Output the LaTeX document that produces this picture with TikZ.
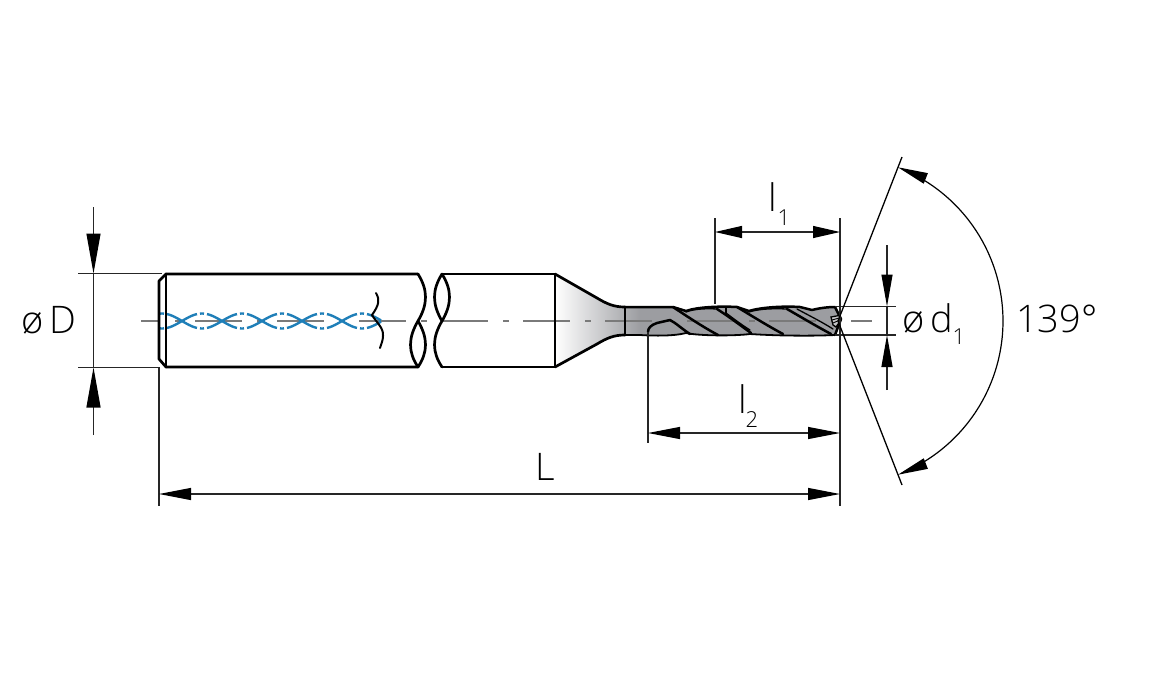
\documentclass[tikz,border=0pt]{standalone}
\usepackage{fontspec}
\setmainfont{Open Sans Light}
\usetikzlibrary{arrows.meta}
\definecolor{flute}{HTML}{9C9DA1}
\definecolor{helix}{HTML}{1F7FB8}
\definecolor{axisgray}{HTML}{7A7A7A}
\definecolor{dimc}{HTML}{262626}
\tikzset{
  outline/.style={line width=2.7pt,line join=round,line cap=round},
  fluteline/.style={line width=2.5pt,line join=round,line cap=round},
  fluteedge/.style={line width=1.3pt,line cap=round},
  thin dim/.style={line width=1.2pt,dimc},
  dimL/.style={line width=1.2pt,dimc,{Triangle[length=32pt,width=12pt,black]}-{Triangle[length=32pt,width=12pt,black]}},
  dimS/.style={line width=1.2pt,dimc,{Triangle[length=27pt,width=12pt,black]}-{Triangle[length=27pt,width=12pt,black]}},
  tipD/.style={line width=1.2pt,dimc,-{Triangle[length=40pt,width=14pt,black]}},
  tipd/.style={line width=1.2pt,dimc,-{Triangle[length=32pt,width=11pt,black]}},
  label/.style={font=\fontsize{38}{38}\selectfont,inner sep=0pt},
  sublabel/.style={font=\fontsize{22}{22}\selectfont,inner sep=0pt},
  helixline/.style={helix,line width=2.4pt}
}
\begin{document}
\begin{tikzpicture}[x=1pt,y=-1pt]
\useasboundingbox (0,0) rectangle (1176,694);
% body fills
\shade[left color=white,right color=flute] (555,274) -- (597,298) .. controls (607,304) and (614,307) .. (625,307) -- (640,307) -- (640,335) -- (625,335) .. controls (614,335) and (607,338) .. (597,344) -- (555,367) -- cycle;
\fill[flute] (640,307) -- (677,307) -- (686,311) .. controls (697,307) and (720,306) .. (737,307) -- (749,311) .. controls (762,307) and (785,306) .. (800,307) -- (812,310) .. controls (820,308) and (828,307) .. (835,307) -- (841,319) -- (835,335) .. controls (815,336) and (780,336) .. (750,334) .. controls (735,336) and (700,336) .. (686,333) .. controls (675,336) and (655,336) .. (640,335) -- cycle;
% centre line
\coordinate (axisA) at (141,321);
\coordinate (axisB) at (872,321);
\draw[axisgray,line width=1.1pt,dash pattern=on 47pt off 15pt on 6pt off 14pt,dash phase=28pt] (axisA) -- (axisB);
% helix
\foreach \p in {162,202,242,282,322,362}{
  \pgfmathsetmacro{\a}{\p+5}
  \pgfmathsetmacro{\b}{\p+35}
  \pgfmathsetmacro{\c}{\p-2}
  \pgfmathsetmacro{\d}{\p+2}
  \ifnum\p=362 \def\b{381}\fi
  \foreach \s in {1,-1}{
    \draw[helixline] plot[domain=\a:\b,samples=20,smooth] (\x,{321+\s*7.5*cos((\x-162)*4.5)});
    \draw[helixline] plot[domain=\c:\d,samples=3] (\x,{321+\s*7.5*cos((\x-162)*4.5)});
  }
}
% shank
\draw[outline] (418,274) -- (166,274) -- (159,281) -- (159,359) -- (166,367) -- (418,367);
\draw[outline] (166,274) -- (166,367);
\draw[outline] (418,274) .. controls (428,290) and (428,304) .. (418,321) .. controls (408,338) and (408,352) .. (418,367);
\draw[outline] (418,321) .. controls (428,338) and (428,352) .. (418,367);
\draw[outline] (442,274) .. controls (432,290) and (432,304) .. (442,321) .. controls (432,338) and (432,352) .. (442,367);
\draw[outline] (442,274) .. controls (452,290) and (452,304) .. (442,321);
\draw[outline] (442,274) -- (555,274) -- (555,367) -- (442,367);
\draw[outline] (555,274) -- (597,298) .. controls (607,304) and (614,307) .. (625,307);
\draw[outline] (555,367) -- (597,344) .. controls (607,338) and (614,335) .. (625,335);
\draw[line width=2pt,line cap=round] (376,293) .. controls (380,300) and (379,305) .. (372,315) .. controls (376,322) and (384,328) .. (383,336) .. controls (383,341) and (381,344) .. (380,348);
% drill outline
\draw[fluteline] (625,307) -- (673,307) -- (686,311) .. controls (697,307) and (720,306) .. (737,307) -- (749,311) .. controls (762,307) and (785,306) .. (800,307) -- (812,310) .. controls (820,308) and (828,307) .. (835,307) -- (841,319) -- (835,335);
\draw[line width=1.8pt,line cap=round] (625,335) -- (640,335) .. controls (655,336) and (675,336) .. (686,333) .. controls (700,336) and (735,336) .. (750,334) .. controls (780,336) and (815,336) .. (835,335);
\draw[outline] (625,307) -- (625,335);
% flute bands
\draw[fluteline] (673,307) .. controls (688,317) and (703,327) .. (718,335);
\draw[fluteline] (690,334) .. controls (682,329) and (676,323) .. (670,320) -- (657,323) .. controls (651,325) and (648,328) .. (648,332);
\draw[fluteline] (717,309) .. controls (728,316) and (740,325) .. (751,333);
\draw[fluteedge] (726,313) .. controls (734,319) and (742,325) .. (750,330);
\draw[fluteline] (726,308) -- (726,313);
\draw[fluteedge] (686,312) .. controls (695,308.5) and (708,308.5) .. (717,309);
\draw[fluteline] (737,307) .. controls (752,316) and (768,326) .. (783,334);
\draw[fluteedge] (749,312) .. controls (760,308.5) and (775,308.5) .. (787,309);
\draw[fluteline] (787,309) .. controls (801,317) and (816,326) .. (831,334);
\draw[fluteedge] (797,309) .. controls (810,316) and (822,322) .. (833,329);
% tip detail
\draw[line width=1.3pt,fill=flute!60] (831,317) -- (839,315.5) -- (841,320) -- (836,327) -- (833,325) -- cycle;
\draw[line width=0.9pt] (832,320) -- (839,318) (833,323) -- (840,320);
% dimensions
\coordinate (Dtop) at (93.5,273.5);
\coordinate (Dbot) at (93.5,367.5);
\draw[thin dim] (78,273.5) -- (162,273.5) (78,367.5) -- (160,367.5);
\coordinate (DupEnd) at (93.5,207);
\coordinate (DdnEnd) at (93.5,435);
\draw[tipD] (DupEnd) -- (Dtop);
\draw[tipD] (DdnEnd) -- (Dbot);
\draw[thin dim] (Dtop) -- (Dbot);
\node[label,anchor=base west] (labD) at (21,333) {ø\,D};
% L
\coordinate (La) at (159,494);
\coordinate (Lb) at (840,494);
\draw[thin dim] (159,367) -- (159,506);
\draw[thin dim] (840,218) -- (840,506);
\draw[dimL] (La) -- (Lb);
\node[label,anchor=base] (labL) at (545,480) {L};
% l1
\coordinate (lia) at (715,232);
\coordinate (lib) at (840,232);
\draw[thin dim] (715,218) -- (715,304);
\draw[dimS] (lia) -- (lib);
\node[label,anchor=base] (labl1) at (773,211) {l};
\node[sublabel,anchor=base] (labl1s) at (784,225) {1};
% l2
\coordinate (liia) at (648,433);
\coordinate (liib) at (840,433);
\draw[thin dim] (648,332) -- (648,443);
\draw[dimL] (liia) -- (liib);
\node[label,anchor=base] (labl2) at (743,413) {l};
\node[sublabel,anchor=base] (labl2s) at (752,427) {2};
% d1
\coordinate (dt) at (887,306.5);
\coordinate (db) at (887,335);
\draw[thin dim] (835,306.5) -- (896,306.5) (835,335) -- (896,335);
\coordinate (dupEnd) at (887,245);
\coordinate (ddnEnd) at (887,390);
\draw[tipd] (dupEnd) -- (dt);
\draw[tipd] (ddnEnd) -- (db);
\draw[thin dim] (dt) -- (db);
\node[label,anchor=base west] (labd) at (902,332) {ø\,d};
\node[sublabel,anchor=base] (labds) at (959,344) {1};
% angle
\coordinate (tip) at (838,321);
\coordinate (angA) at (902,157);
\coordinate (angB) at (902,485);
\draw[line width=1.3pt] (angA) -- (tip) -- (angB);
\draw[line width=1.2pt,{Triangle[length=30pt,width=11pt]}-{Triangle[length=30pt,width=11pt]}] plot[domain=-68.7:68.7,samples=80,smooth] ({838+165*cos(\x)},{321+165*sin(\x)});
\node[label,anchor=base west] (labAng) at (1016,332) {139°};
\end{tikzpicture}
\end{document}
